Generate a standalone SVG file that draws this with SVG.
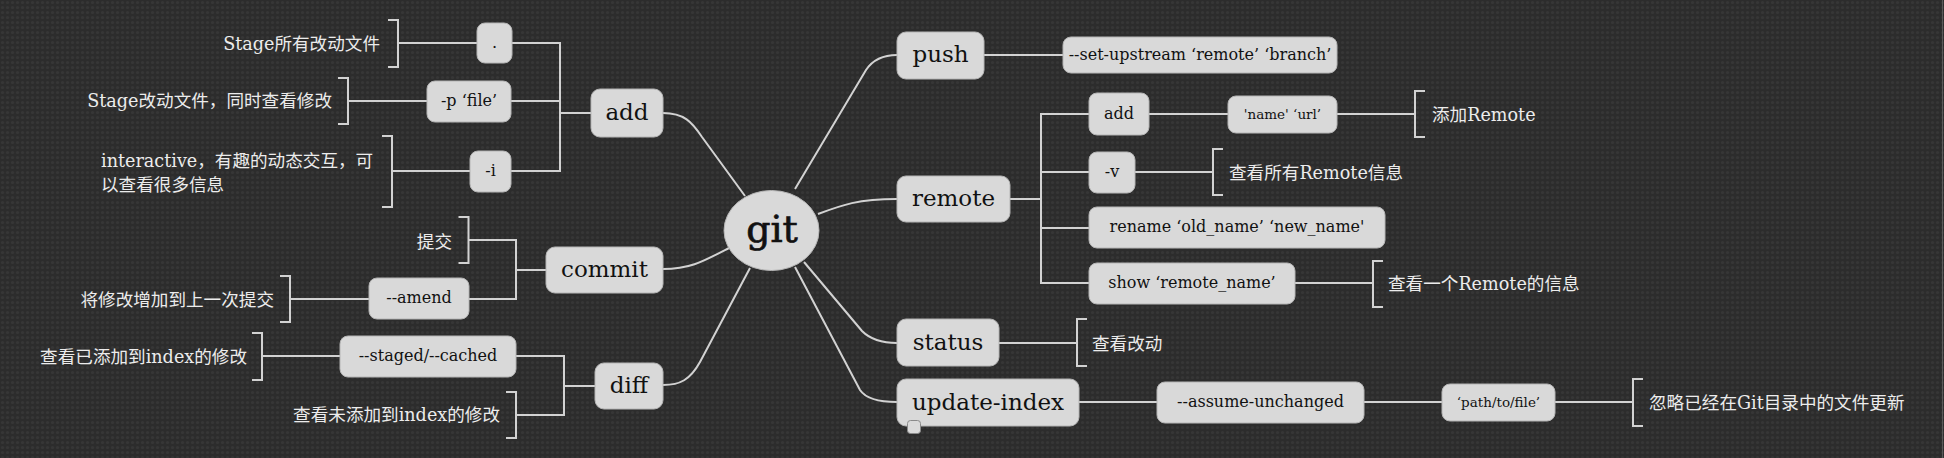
<svg xmlns="http://www.w3.org/2000/svg" width="1944" height="458" viewBox="0 0 1944 458">
<style>
.bx{fill:#d9d9d9;stroke:#b5b5b5;stroke-width:1}
.t1{font-family:"DejaVu Serif","Liberation Serif",serif;font-size:23px;fill:#111;text-anchor:middle;dominant-baseline:central}
.t2{font-family:"DejaVu Serif","Liberation Serif",serif;font-size:16px;fill:#111;text-anchor:middle;dominant-baseline:central}
.t3{font-family:"DejaVu Serif","Liberation Serif",serif;font-size:13.5px;fill:#111;text-anchor:middle;dominant-baseline:central}
.ann{font-family:"DejaVu Serif","Noto Sans CJK SC",serif;font-size:17.6px;fill:#ececec;dominant-baseline:central}
.e{text-anchor:end}
.s{text-anchor:start}
.ln{fill:none;stroke:#d2d2d2;stroke-width:2}
</style>
<defs>
<pattern id="bg" width="5" height="5" patternUnits="userSpaceOnUse">
<rect width="5" height="5" fill="#2c2c2c"/>
<circle cx="2.5" cy="2.5" r="1.6" fill="#363636"/>
</pattern>
</defs>
<rect width="1944" height="458" fill="url(#bg)"/>
<line x1="1942.5" y1="0" x2="1942.5" y2="458" stroke="#5a5a5a" stroke-width="1"/>

<g id="connectors" class="ln">
<path d="M663,113 C684,113 692,122 702,137 L745,196"/>
<path d="M795,189 L866,70 Q876,55 897,55"/>
<path d="M818,214 C842,205 858,199 897,199"/>
<path d="M663,269 C690,269 702,262 729,248"/>
<path d="M663,385 C680,385 690,380 700,362 L750,268"/>
<path d="M804,262 L862,331 Q874,343 897,343"/>
<path d="M795,267 L860,390 Q868,402 897,402"/>
<path d="M512,43 H560 V171 H511 M511,101 H560 M560,113 H591"/>
<path d="M468.5,240 H516 V299 H469 M516,270 H546"/>
<path d="M516,356 H564 V415 H516 M564,386 H595"/>
<path d="M1010,199 H1041 M1089,114 H1041 V283 H1089 M1041,172 H1089 M1041,228 H1089"/>
<path d="M984,55 H1063 M1149,114 H1228 M1079,402 H1157 M1364,402 H1442"/>
<path d="M398,43 H477 M348,101 H427 M392,171 H470 M290,299 H369 M262,356 H340"/>
<path d="M1337,114 H1415 M1135,172 H1213 M1295,283 H1373 M999,343 H1077 M1555,402 H1633"/>
<path d="M388,20 H398 V67 H388"/>
<path d="M338,78 H348 V124 H338"/>
<path d="M382,136 H392 V207 H382"/>
<path d="M458.5,217 H468.5 V263 H458.5"/>
<path d="M280,276 H290 V322 H280"/>
<path d="M252,333 H262 V380 H252"/>
<path d="M506,392 H516 V438 H506"/>
<path d="M1425,91 H1415 V137 H1425"/>
<path d="M1223,149 H1213 V195 H1223"/>
<path d="M1383,261 H1373 V307 H1383"/>
<path d="M1087,319 H1077 V366 H1087"/>
<path d="M1643,379 H1633 V426 H1643"/>
</g>

<g id="git">
<ellipse cx="771.5" cy="230.5" rx="47.5" ry="40" fill="#d9d9d9" stroke="#b5b5b5"/>
<text x="772" y="229" font-family="DejaVu Serif, serif" font-size="38" fill="#111" stroke="#111" stroke-width="0.7" text-anchor="middle" dominant-baseline="central">git</text>
</g>

<g id="add"><rect class="bx" x="591" y="89" width="72" height="48" rx="9"/><text class="t1" x="627" y="112">add</text></g>
<g id="add-dot"><rect class="bx" x="477" y="23" width="35" height="40" rx="8"/><text class="t2" x="494.5" y="42">.</text></g>
<g id="add-p"><rect class="bx" x="427" y="81" width="84" height="41" rx="8"/><text class="t2" x="469" y="100.5">-p ‘file’</text></g>
<g id="add-i"><rect class="bx" x="470" y="151" width="41" height="41" rx="8"/><text class="t2" x="490.5" y="170.5">-i</text></g>
<g id="ann-add-dot"><text class="ann e" x="380" y="44">Stage所有改动文件</text></g>
<g id="ann-add-p"><text class="ann e" x="332" y="101">Stage改动文件，同时查看修改</text></g>
<g id="ann-add-i"><text class="ann s" x="101" y="161">interactive，有趣的动态交互，可</text><text class="ann s" x="101" y="185">以查看很多信息</text></g>

<g id="commit"><rect class="bx" x="546" y="247" width="117" height="46" rx="9"/><text class="t1" x="604.5" y="269">commit</text></g>
<g id="commit-amend"><rect class="bx" x="369" y="278" width="100" height="41" rx="8"/><text class="t2" x="419" y="297.5">--amend</text></g>
<g id="ann-commit"><text class="ann e" x="452" y="242">提交</text></g>
<g id="ann-amend"><text class="ann e" x="274" y="300">将修改增加到上一次提交</text></g>

<g id="diff"><rect class="bx" x="595" y="363" width="68" height="46" rx="9"/><text class="t1" x="629" y="385">diff</text></g>
<g id="diff-staged"><rect class="bx" x="340" y="336" width="176" height="41" rx="8"/><text class="t2" x="428" y="355.5">--staged/--cached</text></g>
<g id="ann-staged"><text class="ann e" x="247" y="357">查看已添加到index的修改</text></g>
<g id="ann-diff"><text class="ann e" x="500" y="415">查看未添加到index的修改</text></g>

<g id="push"><rect class="bx" x="897" y="32" width="87" height="47" rx="9"/><text class="t1" x="940.5" y="54">push</text></g>
<g id="push-upstream"><rect class="bx" x="1063" y="37" width="274" height="36" rx="8"/><text class="t2" x="1200" y="54">--set-upstream ‘remote’ ‘branch’</text></g>

<g id="remote"><rect class="bx" x="897" y="176" width="113" height="46" rx="9"/><text class="t1" x="953.5" y="198">remote</text></g>
<g id="remote-add"><rect class="bx" x="1089" y="93" width="60" height="42" rx="8"/><text class="t2" x="1119" y="113">add</text></g>
<g id="remote-add-args"><rect class="bx" x="1228" y="96" width="109" height="37" rx="8"/><text class="t3" x="1282.5" y="113.5">'name' ‘url’</text></g>
<g id="ann-remote-add"><text class="ann s" x="1432" y="115">添加Remote</text></g>
<g id="remote-v"><rect class="bx" x="1089" y="152" width="46" height="41" rx="8"/><text class="t2" x="1112" y="171.5">-v</text></g>
<g id="ann-remote-v"><text class="ann s" x="1229" y="173">查看所有Remote信息</text></g>
<g id="remote-rename"><rect class="bx" x="1089" y="207" width="296" height="41" rx="8"/><text class="t2" x="1237" y="226.5">rename ‘old_name’ ‘new_name'</text></g>
<g id="remote-show"><rect class="bx" x="1089" y="263" width="206" height="41" rx="8"/><text class="t2" x="1192" y="282.5">show ‘remote_name’</text></g>
<g id="ann-remote-show"><text class="ann s" x="1388" y="284">查看一个Remote的信息</text></g>

<g id="status"><rect class="bx" x="897" y="319" width="102" height="47" rx="9"/><text class="t1" x="948" y="341.5">status</text></g>
<g id="ann-status"><text class="ann s" x="1092" y="344">查看改动</text></g>

<g id="update-index"><rect class="bx" x="897" y="379" width="182" height="47" rx="9"/><text class="t1" x="988" y="401.5">update-index</text><rect x="907.5" y="420.5" width="13" height="13" rx="3" fill="#dadada" stroke="#8a8a8a"/></g>
<g id="update-assume"><rect class="bx" x="1157" y="382" width="207" height="41" rx="8"/><text class="t2" x="1260.5" y="401.5">--assume-unchanged</text></g>
<g id="update-path"><rect class="bx" x="1442" y="384" width="113" height="37" rx="8"/><text class="t3" x="1498.5" y="401.5">‘path/to/file’</text></g>
<g id="ann-update"><text class="ann s" x="1649" y="403">忽略已经在Git目录中的文件更新</text></g>
</svg>
